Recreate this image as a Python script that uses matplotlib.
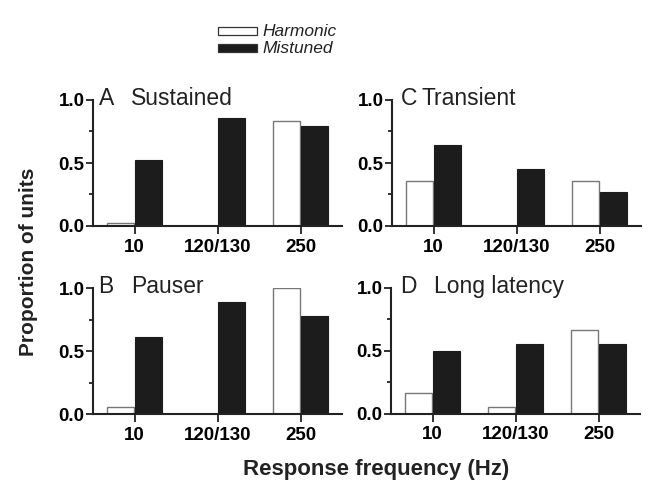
import numpy as np
import matplotlib
matplotlib.use("Agg")
import matplotlib.pyplot as plt
from matplotlib.patches import Rectangle

plt.rcParams['font.family'] = ['Liberation Sans', 'DejaVu Sans']

# data
freqs = ["10", "120/130", "250"]
series = ["Harmonic", "Mistuned"]
letters = ["A", "B", "C", "D"]
names = ["Sustained", "Pauser", "Transient", "Long latency"]
harmonic = [[0.02, 0.0, 0.83],
            [0.055, 0.0, 1.0],
            [0.36, 0.0, 0.36],
            [0.165, 0.053, 0.665]]
mistuned = [[0.52, 0.855, 0.79],
            [0.61, 0.89, 0.78],
            [0.645, 0.455, 0.27],
            [0.50, 0.555, 0.555]]

W, H = 656, 490
fig = plt.figure(figsize=(W / 100, H / 100), dpi=100)

# axes boxes in pixels: left, bottom(y from top)
boxes = [(93, 226), (93, 414), (392, 226), (391, 413.5)]
name_dx = [38, 38, 30, 43]
letter_dx = [6, 5, 9, 9]
aw, ah = 249, 126

x = np.arange(len(freqs))
bw = 0.325
for i in range(4):
    lx, by = boxes[i]
    ax = fig.add_axes([lx / W, 1 - by / H, aw / W, ah / H])
    ax.bar(x - bw / 2 - 0.005, harmonic[i], bw, color="white", edgecolor="#777777", linewidth=1)
    ax.bar(x + bw / 2 + 0.005, mistuned[i], bw, color="#1c1c1c", edgecolor="#1c1c1c", linewidth=0.8)
    ax.set_xlim(-0.5, 2.5)
    ax.set_ylim(0, 1.0)
    ax.set_xticks(x)
    ax.set_xticklabels(freqs, fontweight="bold", fontsize=13.5)
    ax.set_yticks([0, 0.5, 1.0])
    ax.set_yticklabels(["0.0", "0.5", "1.0"], fontweight="bold", fontsize=13.5)
    ax.set_yticks([0.25, 0.75], minor=True)
    for s in ["top", "right"]:
        ax.spines[s].set_visible(False)
    for s in ["left", "bottom"]:
        ax.spines[s].set_linewidth(1.5)
        ax.spines[s].set_color("#222222")
    ax.tick_params(axis="y", which="major", length=5, width=1.3, pad=1, color="#222222")
    ax.tick_params(axis="y", which="minor", length=3, width=1.3, color="#222222")
    ax.tick_params(axis="x", length=6, width=1.3, pad=3, color="#222222")
    ax.text(letter_dx[i] / aw, 0.96, letters[i], transform=ax.transAxes,
            fontsize=16.5, va="baseline", ha="left", color="#222222")
    ax.text(name_dx[i] / aw, 0.96, names[i], transform=ax.transAxes,
            fontsize=16.5, va="baseline", ha="left", color="#222222")

fig.text(29 / W, 1 - 262 / H, "Proportion of units", rotation=90, fontsize=15,
         fontweight="bold", ha="center", va="center", color="#222222")
fig.text(376 / W, 1 - 475 / H, "Response frequency (Hz)", fontsize=16,
         fontweight="bold", ha="center", va="baseline", color="#222222")

# legend
fills = ["white", "#1c1c1c"]
for j, lab in enumerate(series):
    yc = 31.5 + 17 * j
    fig.patches.append(Rectangle((218 / W, 1 - (yc + 4) / H), 39 / W, 8 / H,
                                 transform=fig.transFigure, facecolor=fills[j],
                                 edgecolor="#333333", linewidth=0.9))
    fig.text(262 / W, 1 - yc / H, lab, fontsize=12.5, style="italic",
             ha="left", va="center", color="#222222")

fig.savefig("out.png", dpi=100)
